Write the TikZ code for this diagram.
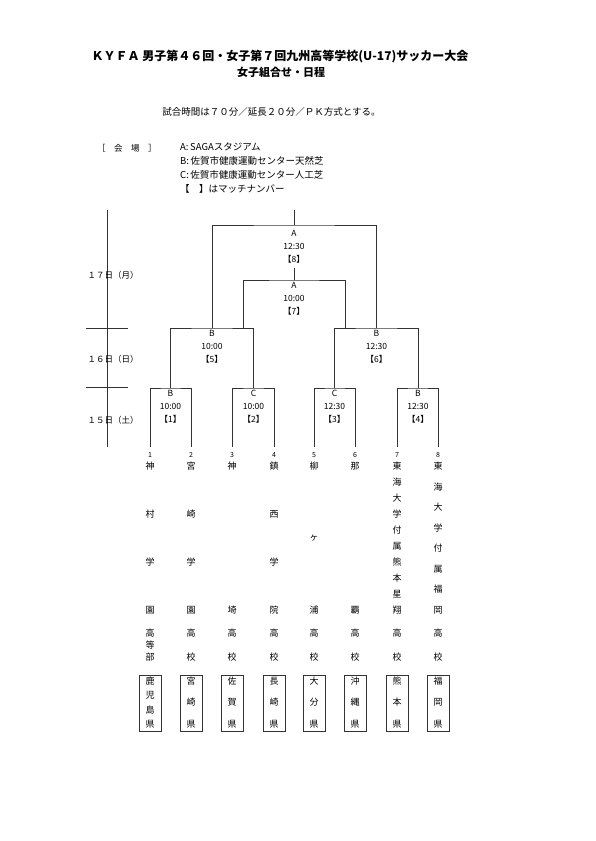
\documentclass[tikz,border=0pt]{standalone}
\usepackage{fontspec}
\setmainfont{Noto Sans CJK JP}
\usepackage{tikz}
\usetikzlibrary{positioning}
\newcommand{\vtext}[6]{%
  \foreach \ch [count=\k] in {#6}
    \node[vch] (#1-\k) at (#2, {#3+(#4-#3)*(\k-1)/(#5-1)}) {\ch};
}

\begin{document}
\begin{tikzpicture}[x=1pt, y=-1pt,
  line/.style={draw=black!80, line width=0.6pt},
  title/.style={font=\fontsize{12}{13}\selectfont\bfseries, inner sep=0pt},
  txt/.style={font=\fontsize{9.5}{11}\selectfont, inner sep=0pt},
  day/.style={font=\fontsize{8.5}{10}\selectfont, inner sep=0pt},
  game/.style={font=\fontsize{8.5}{13}\selectfont, align=center, inner sep=0pt},
  num/.style={font=\fontsize{7}{8}\selectfont, inner sep=0pt},
  vch/.style={font=\fontsize{9}{10}\selectfont, inner sep=0pt},
  prefbox/.style={draw=black!80, line width=0.9pt, minimum width=22pt,
    minimum height=56pt, inner sep=0pt}
]
\fill[white] (0,0) rectangle (595,841);
\useasboundingbox (0,0) rectangle (595,841);

\node[title] (t1) at (280,57) {ＫＹＦＡ 男子第４６回・女子第７回九州高等学校(U-17)サッカー大会};
\node[title, font=\fontsize{11}{13}\selectfont\bfseries] (t2) at (281,72) {女子組合せ・日程};
\node[txt] (rule) at (271.5,112) {試合時間は７０分／延長２０分／ＰＫ方式とする。};

\node[day, anchor=west] (venue) at (97,148) {［　会　場　］};
\node[txt, anchor=west] (va) at (180,147) {A:\,SAGAスタジアム};
\node[txt, anchor=west] (vb) at (180,161) {B:\,佐賀市健康運動センター天然芝};
\node[txt, anchor=west] (vc) at (180,175) {C:\,佐賀市健康運動センター人工芝};
\node[txt, anchor=west] (vm) at (180,189) {【　】はマッチナンバー};

% days
\coordinate (s0) at (107.5,210);
\coordinate (s1) at (107.5,447);
\draw[line] (s0) -- (s1);
\coordinate (k1) at (86,328);
\coordinate (k2) at (128,328);
\coordinate (k3) at (86,387.5);
\coordinate (k4) at (128,387.5);
\draw[line] (k1) -- (k2);
\draw[line] (k3) -- (k4);
\node[day] (d17) at (113,275) {１７日（月）};
\node[day] (d16) at (113,359) {１６日（日）};
\node[day] (d15) at (113,420) {１５日（土）};

% bracket
\foreach \x [count=\i] in {150,191,232,274,314,355,397,438} {
  \coordinate (p\i) at (\x,447);
  \node[num] (n\i) at (\x,455) {\i};
}
\coordinate (m1) at (170.5,388);
\coordinate (m2) at (253.5,388);
\coordinate (m3) at (334.5,388);
\coordinate (m4) at (418,388);
\coordinate (m5) at (212,328);
\coordinate (m6) at (376.5,328);
\coordinate (c5) at (243,328);
\coordinate (c6) at (345,328);
\coordinate (m7) at (294,280);
\coordinate (m8) at (294,225);
\coordinate (top) at (294,210);

\draw[line] (p1) |- (m1) -| (p2);
\draw[line] (p3) |- (m2) -| (p4);
\draw[line] (p5) |- (m3) -| (p6);
\draw[line] (p7) |- (m4) -| (p8);
\draw[line] (m1) |- (m5) -| (m2);
\draw[line] (m3) |- (m6) -| (m4);
\draw[line] (m5) |- (m8) -| (m6);
\draw[line] (c5) |- (m7) -| (c6);
\draw[line] (m8) -- (top);

\node[game] (g8) at (294,247) {A\\12:30\\【8】};
\node[game] (g7) at (294,299) {A\\10:00\\【7】};
\node[game] (g5) at (212,347) {B\\10:00\\【5】};
\node[game] (g6) at (376.5,347) {B\\12:30\\【6】};
\node[game] (g1) at (170.5,407) {B\\10:00\\【1】};
\node[game] (g2) at (253.5,407) {C\\10:00\\【2】};
\node[game] (g3) at (334.5,407) {C\\12:30\\【3】};
\node[game] (g4) at (418,407) {B\\12:30\\【4】};
\draw[line, shorten <=4pt] (g8) -- (m7);

% teams
\vtext{a1}{150}{466}{610}{4}{神,村,学,園}
\vtext{a2}{191}{466}{610}{4}{宮,崎,学,園}
\vtext{a3}{232}{466}{610}{2}{神,埼}
\vtext{a4}{274}{466}{610}{4}{鎮,西,学,院}
\vtext{a5}{314}{466}{610}{3}{柳,ヶ,浦}
\vtext{a6}{355}{466}{610}{2}{那,覇}
\vtext{a7}{397}{466}{610}{10}{東,海,大,学,付,属,熊,本,星,翔}
\vtext{a8}{438}{466}{610}{8}{東,海,大,学,付,属,福,岡}
\vtext{b1}{150}{633}{657}{3}{高,等,部}
\foreach \x [count=\i from 2] in {191,232,274,314,355,397,438} {
  \vtext{b\i}{\x}{633}{657}{2}{高,校}
}

% prefectures
\foreach \x [count=\i] in {150,191,232,274,314,355,397,438}
  \node[prefbox] (box\i) at (\x,703) {};
\vtext{c1}{150}{681}{724}{4}{鹿,児,島,県}
\vtext{c2}{191}{681}{724}{3}{宮,崎,県}
\vtext{c3}{232}{681}{724}{3}{佐,賀,県}
\vtext{c4}{274}{681}{724}{3}{長,崎,県}
\vtext{c5}{314}{681}{724}{3}{大,分,県}
\vtext{c6}{355}{681}{724}{3}{沖,縄,県}
\vtext{c7}{397}{681}{724}{3}{熊,本,県}
\vtext{c8}{438}{681}{724}{3}{福,岡,県}
\end{tikzpicture}
\end{document}
